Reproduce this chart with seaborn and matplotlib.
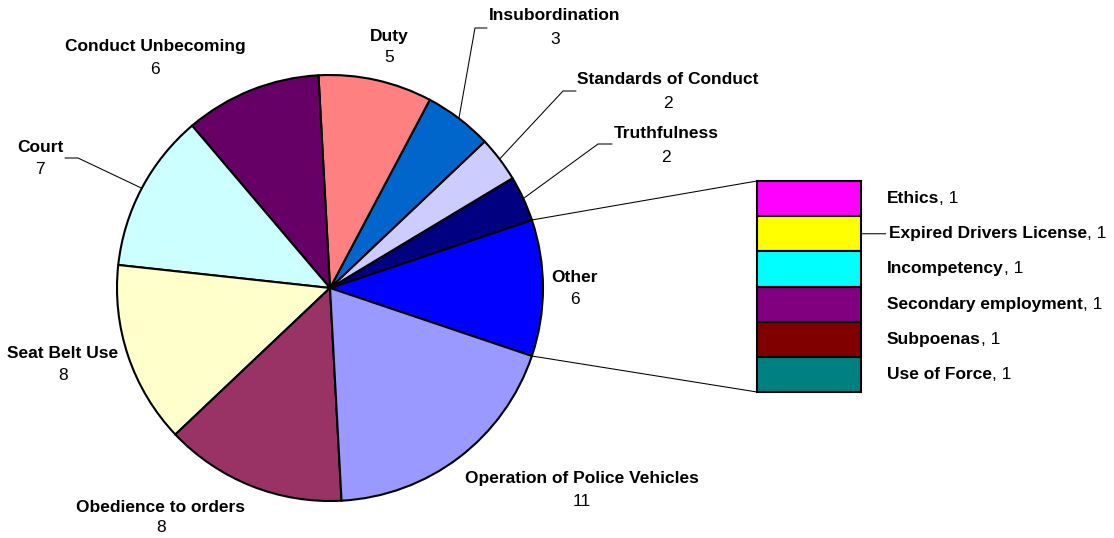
import numpy as np
import matplotlib
matplotlib.use("Agg")
import matplotlib.pyplot as plt
import matplotlib.transforms as mtransforms
from matplotlib.lines import Line2D
from matplotlib.patches import ConnectionPatch
import seaborn as sns

# main pie, counter-clockwise starting with "Other" (centred on the right)
pie_labels = ["Other", "Truthfulness", "Standards of Conduct", "Insubordination", "Duty",
              "Conduct Unbecoming", "Court", "Seat Belt Use", "Obedience to orders",
              "Operation of Police Vehicles"]
pie_values = [6, 2, 2, 3, 5, 6, 7, 8, 8, 11]
pie_colors = ["#0000FF", "#000080", "#CCCCFF", "#0066CC", "#FF8080",
              "#660066", "#CCFFFF", "#FFFFCC", "#993366", "#9999FF"]

# breakdown of "Other", top to bottom
other_labels = ["Ethics", "Expired Drivers License", "Incompetency",
                "Secondary employment", "Subpoenas", "Use of Force"]
other_values = [1, 1, 1, 1, 1, 1]
other_colors = ["#FF00FF", "#FFFF00", "#00FFFF", "#800080", "#800000", "#008080"]

sns.set_theme(style="white")
plt.rcParams["font.family"] = ["Liberation Sans", "DejaVu Sans"]
FS = 12.5

W, H = 1114, 538
CX, CY, R = 330, 288, 213  # pie centre / radius in pixels

fig = plt.figure(figsize=(W / 100, H / 100), dpi=100)
fig.patch.set_facecolor("white")
# pixel coords measured from top-left
px = mtransforms.Affine2D().scale(1 / W, -1 / H).translate(0, 1) + fig.transFigure

ax = fig.add_axes([0, 0, 1, 1])
total = sum(pie_values)
start = -pie_values[0] / total * 360 / 2
wedges, _ = ax.pie(pie_values, colors=sns.color_palette(pie_colors), startangle=start,
                   counterclock=True, radius=1,
                   wedgeprops=dict(edgecolor="black", linewidth=1.5))
ax.set_xlim(-CX / R, (W - CX) / R)
ax.set_ylim(-(H - CY) / R, CY / R)
ax.set_aspect("auto")
ax.axis("off")

# label positions (centre of name line, centre of value line) in pixels
label_pos = {
    "Other": (575, 277, 299),
    "Truthfulness": (666, 133, 157),
    "Standards of Conduct": (668, 80, 103),
    "Insubordination": (555, 16, 40),
    "Duty": (389, 36, 58),
    "Conduct Unbecoming": (155, 47, 69),
    "Court": (40, 147, 169),
    "Seat Belt Use": (63, 353, 376),
    "Obedience to orders": (161, 507, 528),
    "Operation of Police Vehicles": (582, 478, 501),
}
# leader line elbows (bend point, end point) in pixels
leaders = {
    "Court": [(78, 158), (65, 158)],
    "Insubordination": [(475, 28), (487, 28)],
    "Standards of Conduct": [(563, 91), (576, 91)],
    "Truthfulness": [(598, 144), (612, 144)],
}

inv = px.inverted()
for w, name, val in zip(wedges, pie_labels, pie_values):
    x, yn, yv = label_pos[name]
    fig.text(x, yn, name, transform=px, ha="center", va="center",
             fontsize=FS, fontweight="bold", color="black")
    fig.text(x, yv, str(val), transform=px, ha="center", va="center",
             fontsize=FS, color="black")
    if name in leaders:
        mid = np.deg2rad((w.theta1 + w.theta2) / 2)
        sx, sy = inv.transform(ax.transData.transform((np.cos(mid), np.sin(mid))))
        pts = [(sx, sy)] + leaders[name]
        fig.add_artist(Line2D([p[0] for p in pts], [p[1] for p in pts],
                              transform=px, color="black", lw=0.75))

# stacked bar for "Other"
ax2 = fig.add_axes([757 / W, 1 - 392 / H, 104 / W, 211 / H])
other_total = sum(other_values)
for i, (name, val, col) in enumerate(zip(other_labels, other_values, other_colors)):
    bottom = sum(other_values[i + 1:])
    ax2.bar(0, val, bottom=bottom, width=1, color=col, edgecolor="black",
            linewidth=1.5, clip_on=False)
    off = 28 if name == "Expired Drivers License" else 26
    arrow = dict(arrowstyle="-", lw=0.75, color="black", shrinkA=0, shrinkB=1) \
        if name == "Expired Drivers License" else None
    t = ax2.annotate(name, xy=(0.5, bottom + val / 2), xytext=(off, 0),
                     textcoords="offset pixels", ha="left", va="center",
                     fontsize=FS, fontweight="bold", color="black",
                     arrowprops=arrow)
    ax2.annotate(f", {val}", xy=(1, 0), xycoords=t, ha="left", va="bottom",
                 fontsize=FS, color="black")
ax2.set_xlim(-0.5, 0.5)
ax2.set_ylim(0, other_total)
ax2.axis("off")

# connector lines from the "Other" slice to the bar
ow = wedges[0]
for ang, yb in [(ow.theta2, other_total), (ow.theta1, 0)]:
    a = np.deg2rad(ang)
    con = ConnectionPatch(xyA=(np.cos(a), np.sin(a)), coordsA=ax.transData,
                          xyB=(-0.5, yb), coordsB=ax2.transData,
                          color="black", lw=0.75)
    fig.add_artist(con)

fig.savefig("out.png", dpi=100, facecolor="white")
